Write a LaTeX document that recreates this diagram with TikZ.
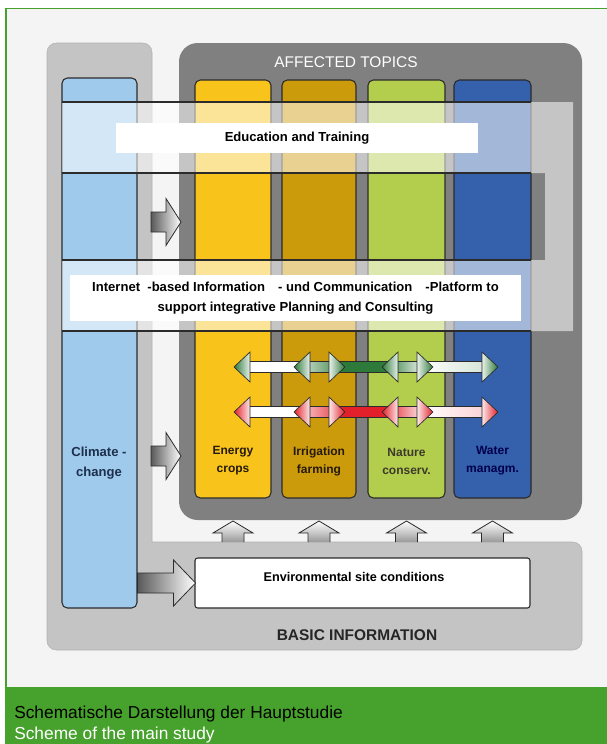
\documentclass[tikz,border=0pt]{standalone}
\usepackage{fontspec}
\setmainfont{Liberation Sans}
\usetikzlibrary{positioning,fit,calc}
\definecolor{bggray}{HTML}{F4F4F4}
\definecolor{framegreen}{HTML}{47A22D}
\definecolor{panelgray}{HTML}{808080}
\definecolor{basegray}{HTML}{C4C4C4}
\definecolor{climblue}{HTML}{9FCAEC}
\definecolor{energyyel}{HTML}{F8C41C}
\definecolor{irrgold}{HTML}{CC9B0C}
\definecolor{natgreen}{HTML}{B3CD4C}
\definecolor{waterblue}{HTML}{3560AB}
\definecolor{arrgreen}{HTML}{2E7A3A}
\definecolor{arrred}{HTML}{E2202B}
\definecolor{edgedark}{HTML}{2B2B2B}
\definecolor{climtext}{HTML}{1D2F4D}
\newcommand*{\linkrow}[2]{%
  \fill[white] (250,#1-5.5) rectangle (296,#1+5.5);
  \shade[left color=#2!15,right color=#2!75] (296,#1-5.5) rectangle (332,#1+5.5);
  \fill[#2] (332,#1-5.5) rectangle (395,#1+5.5);
  \shade[left color=#2!75,right color=#2!15] (395,#1-5.5) rectangle (420,#1+5.5);
  \shade[left color=white,right color=#2!20] (420,#1-5.5) rectangle (485,#1+5.5);
  \draw[edgedark,line width=0.5pt] (250,#1-5.5) -- (485,#1-5.5) (250,#1+5.5) -- (485,#1+5.5);
  \foreach \t in {234,294,382}
    \draw[linkhead,left color=#2,right color=#2!10] (\t,#1) -- (\t+16,#1-15) -- (\t+16,#1+15) -- cycle;
  \foreach \t in {345,433,498}
    \draw[linkhead,left color=#2!10,right color=#2] (\t,#1) -- (\t-16,#1-15) -- (\t-16,#1+15) -- cycle;
}

\begin{document}
\begin{tikzpicture}[x=0.75pt,y=-0.75pt]
  \tikzset{
    column/.style={draw=edgedark,line width=0.8pt,rounded corners=4pt,inner sep=0pt},
    colname/.style={font=\bfseries\fontsize{9}{13.5}\selectfont,align=center,inner sep=0pt},
    whitebox/.style={fill=white,inner sep=0pt},
    blockarrow/.style={draw=edgedark,line width=0.6pt,left color=black!65,right color=white},
    uparrow/.style={draw=edgedark,line width=0.6pt,top color=white,bottom color=black!40},
    linkhead/.style={draw=edgedark,line width=0.5pt},
    bandline/.style={draw=edgedark,line width=0.9pt}
  }
  \useasboundingbox (0,0) rectangle (607,744);
  \fill[bggray] (6,8) rectangle (607,687);
  \fill[framegreen] (5,687) rectangle (607,744);
  \draw[framegreen,line width=0.9pt] (6,687) -- (6,8.5) -- (607,8.5);

  \filldraw[fill=basegray,draw=black!30] [rounded corners=7pt] (47,300) -- (47,43) -- (152,43) -- (152,100)
    [sharp corners] -- (152,542) -- (300,542) [rounded corners=7pt] -- (582,542) -- (582,650) -- (47,650) -- cycle;
  \fill[panelgray,rounded corners=14pt] (179,43) rectangle (582,520);

  \node[column,fill=climblue,fit={(62,78) (137,608)}] (clim) {};
  \foreach \n/\xa/\xb/\c in {energy/195/271/energyyel,irrig/282/356/irrgold,nature/368/445/natgreen,water/454/531/waterblue}
    \node[column,fill=\c,fit={(\xa,80) (\xb,498)}] (\n) {};

  \fill[white,opacity=0.55] (62,102) -- (573,102) -- (573,331) -- (62,331) -- (62,260) -- (545,260) -- (545,173) -- (62,173) -- cycle;
  \draw[bandline] (62,102) -- (531,102) (62,173) -- (531,173) (62,260) -- (531,260) (62,331) -- (531,331);

  \node[whitebox,minimum width=272pt,minimum height=22pt,font=\bfseries\fontsize{9.8}{12}\selectfont] (edu) at (297,138) {Education and Training};
  \node[whitebox,minimum width=338pt,minimum height=34.5pt,align=center,font=\bfseries\fontsize{9.8}{15}\selectfont] (platform) at (295.5,298)
    {Internet\ \ -based Information\quad - und Communication\quad -Platform to\\support integrative Planning and Consulting};

  \node[text=white,font=\fontsize{11.6}{13}\selectfont] (topics) at (346,62) {AFFECTED TOPICS};
  \node[colname,text=climtext,font=\bfseries\fontsize{9.8}{14.5}\selectfont] (climname) at (99,463) {Climate -\\change};
  \node[colname,text=black!80!brown] (energyname) at (233,461) {Energy\\crops};
  \node[colname,text=black!80!brown] (irrigname) at (319,461) {Irrigation\\farming};
  \node[colname,text=black!75!olive] (naturename) at (406.5,461) {Nature\\conserv.};
  \node[colname,text=black!70!blue] (watername) at (492.5,461) {Water\\managm.};

  \linkrow{367}{arrgreen}
  \linkrow{412}{arrred}

  \coordinate (in1) at (151,222);
  \coordinate (in2) at (151,456);
  \foreach \p in {in1,in2}
    \draw[blockarrow] (\p) ++(0,-10) -- ++(15,0) -- ++(0,-13.5) -- ++(15,23.5) -- ++(-15,23.5) -- ++(0,-13.5) -- ++(-15,0) -- cycle;

  \coordinate (basetop) at (0,542);
  \foreach \n in {energy,irrig,nature,water}
    \draw[uparrow] (\n.south |- basetop) ++(-11,0) -- ++(0,-9) -- ++(-9,0) -- ++(20,-12) -- ++(20,12) -- ++(-9,0) -- ++(0,9);

  \node[column,fill=white,rounded corners=2pt,fit={(195,558) (530,608)}] (env) {};
  \node[colname,font=\bfseries\fontsize{9.5}{12}\selectfont] (envname) at (354,577) {Environmental site conditions};
  \draw[blockarrow] (clim.east |- env.west) ++(0,-10) -- ++(36,0) -- ++(0,-13) -- ++(22,23) -- ++(-22,23) -- ++(0,-13) -- ++(-36,0) -- cycle;

  \node[font=\bfseries\fontsize{11.6}{13}\selectfont,text=black!85] (basic) at (357,635) {BASIC INFORMATION};

  \node[anchor=west,inner sep=0pt,font=\fontsize{13}{15}\selectfont] (capde) at (14,714) {Schematische Darstellung der Hauptstudie};
  \node[anchor=west,inner sep=0pt,text=white,font=\fontsize{13}{15}\selectfont] (capen) at (14,735) {Scheme of the main study};
\end{tikzpicture}
\end{document}
